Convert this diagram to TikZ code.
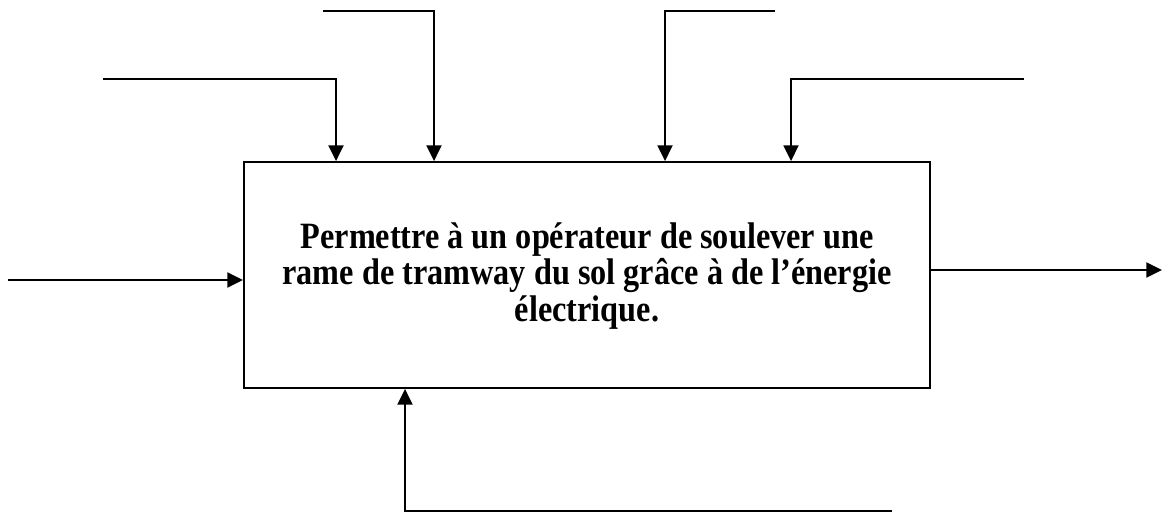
\documentclass[tikz,border=0pt]{standalone}
\usepackage{fontspec}
\setmainfont{Liberation Serif}
\usetikzlibrary{arrows.meta, calc, positioning}
\newcommand{\fnlabel}[1]{\scalebox{1}[1.15]{\parbox{10.8cm}{\centering\fontsize{15.6}{14.2}\selectfont\bfseries #1}}}
\tikzset{
  fnbox/.style  ={draw, rectangle, minimum width=11.66cm, minimum height=3.84cm, inner sep=0pt, line width=0.9pt},
  fntxt/.style  ={inner sep=0pt},
  flow/.style   ={-{Triangle[length=7.6pt, width=7.2pt]}, line width=1.1pt},   % input / output / control
}
\begin{document}
\begin{tikzpicture}[x=0.017cm, y=-0.017cm]
  \useasboundingbox (0,0) rectangle (1163,513);
  \node[fnbox] (box) at (587,275) {};
  \node[fntxt] (fn) at (587,276)
    {\fnlabel{Permettre à un opérateur de soulever une\\
     rame de tramway du sol grâce à de l’énergie\\
     électrique.}};
  % free ends
  \coordinate (inL)  at (8,280);
  \coordinate (outR) at (1162,270);
  \coordinate (c1)   at (103,79);
  \coordinate (c1k)  at (336,79);
  \coordinate (c2)   at (323,11);
  \coordinate (c2k)  at (434,11);
  \coordinate (c3)   at (775,11);
  \coordinate (c3k)  at (665,11);
  \coordinate (c4)   at (1024,79);
  \coordinate (c4k)  at (791,79);
  \coordinate (m1)   at (892,511);
  \coordinate (m1k)  at (405,511);
  \draw[flow] (inL) -- (box.west |- inL);
  \draw[flow] (box.east |- outR) -- (outR);
  \draw[flow] (c1) -- (c1k) -- (box.north -| c1k);
  \draw[flow] (c2) -- (c2k) -- (box.north -| c2k);
  \draw[flow] (c3) -- (c3k) -- (box.north -| c3k);
  \draw[flow] (c4) -- (c4k) -- (box.north -| c4k);
  \draw[flow] (m1) -- (m1k) -- (box.south -| m1k);
\end{tikzpicture}
\end{document}
